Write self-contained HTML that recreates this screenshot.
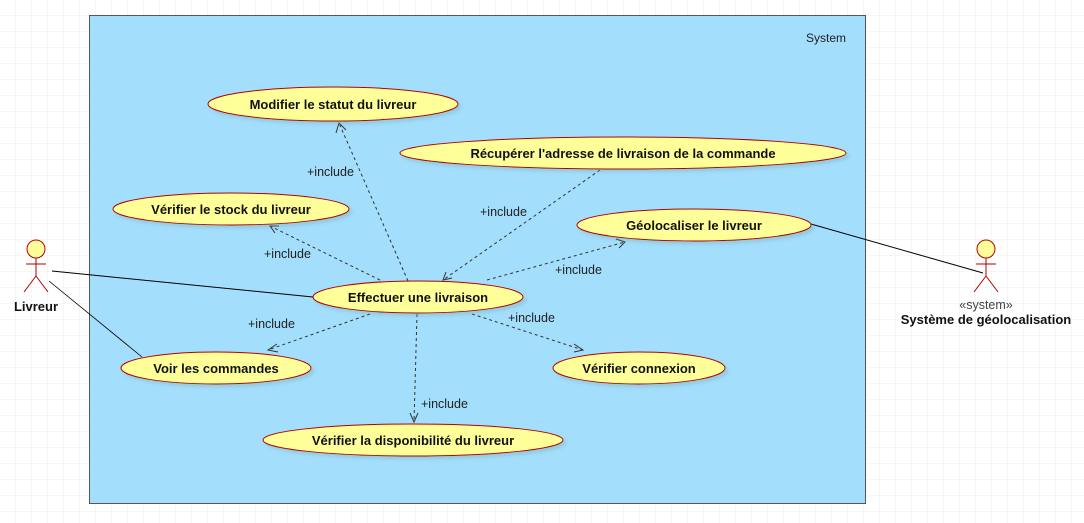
<!DOCTYPE html>
<html><head><meta charset="utf-8"><style>
html,body{margin:0;padding:0;background:#fff}
svg{display:block}
text{font-family:"Liberation Sans",sans-serif;font-size:12.5px;fill:#222}
.uc{fill:#ffff99;stroke:#b20000;stroke-width:1}
.b{font-weight:bold;font-size:13px;fill:#111}
.d{stroke:#333;stroke-width:1;stroke-dasharray:3,3;fill:none}
.ah{stroke:#333;stroke-width:1;fill:none}
</style></head><body>
<svg width="1084" height="523" viewBox="0 0 1084 523" xmlns="http://www.w3.org/2000/svg">
<defs>
<pattern id="g" width="16" height="16" patternUnits="userSpaceOnUse"><path d="M16 0V16H0" fill="none" stroke="#ececec" stroke-width="1"/></pattern>
<filter id="sh"><feDropShadow dx="3" dy="3" stdDeviation="1.5" flood-color="#7aa" flood-opacity="0.35"/></filter>
</defs>
<rect width="1084" height="523" fill="url(#g)"/>
<rect x="89.5" y="15.5" width="776" height="488" fill="#a3defd" stroke="#555" stroke-width="1"/>
<text x="806" y="42" style="font-size:12px">System</text>

<line x1="52" y1="271" x2="313" y2="297" stroke="#000"/>
<line x1="49" y1="281" x2="142" y2="357" stroke="#000" stroke-width="0.8"/>
<line x1="811" y1="224" x2="983" y2="273" stroke="#000"/>

<path class="d" d="M408 281 L339 123"/><path class="ah" d="M336 133 L339 123 L346 130"/>
<path class="d" d="M600 170 L443 280"/><path class="ah" d="M446 272 L443 280 L452 278"/>
<path class="d" d="M380 280 L270 226"/><path class="ah" d="M275 233 L270 226 L279 226"/>
<path class="d" d="M487 280 L625 242"/><path class="ah" d="M616 239 L625 242 L619 248"/>
<path class="d" d="M370 314 L268 350"/><path class="ah" d="M277 344 L268 350 L278 352"/>
<path class="d" d="M472 314 L583 350"/><path class="ah" d="M574 344 L583 350 L574 352"/>
<path class="d" d="M417 314 L414 422"/><path class="ah" d="M410 413 L414 422 L418 413"/>

<text x="307" y="176">+include</text>
<text x="480" y="216">+include</text>
<text x="264" y="258">+include</text>
<text x="555" y="274">+include</text>
<text x="248" y="328">+include</text>
<text x="508" y="322">+include</text>
<text x="421" y="408">+include</text>

<g filter="url(#sh)">
<ellipse class="uc" cx="333" cy="104" rx="125" ry="17"/>
<ellipse class="uc" cx="623" cy="153" rx="223" ry="16"/>
<ellipse class="uc" cx="231" cy="209" rx="118" ry="16"/>
<ellipse class="uc" cx="694" cy="225" rx="117" ry="16"/>
<ellipse class="uc" cx="418" cy="297" rx="105" ry="16"/>
<ellipse class="uc" cx="216" cy="368" rx="95" ry="16"/>
<ellipse class="uc" cx="639" cy="368" rx="86" ry="16"/>
<ellipse class="uc" cx="413" cy="440" rx="150" ry="16"/>
</g>
<g text-anchor="middle">
<text class="b" x="333" y="109">Modifier le statut du livreur</text>
<text class="b" x="623" y="158">Récupérer l'adresse de livraison de la commande</text>
<text class="b" x="231" y="214">Vérifier le stock du livreur</text>
<text class="b" x="694" y="230">Géolocaliser le livreur</text>
<text class="b" x="418" y="302">Effectuer une livraison</text>
<text class="b" x="216" y="373">Voir les commandes</text>
<text class="b" x="639" y="373">Vérifier connexion</text>
<text class="b" x="413" y="445">Vérifier la disponibilité du livreur</text>
</g>

<g stroke="#b20000" fill="none">
<circle cx="36" cy="249" r="9" fill="#ffff99"/>
<line x1="36" y1="258" x2="36" y2="276"/><line x1="26" y1="264" x2="46" y2="264"/>
<line x1="36" y1="276" x2="24" y2="292"/><line x1="36" y1="276" x2="48" y2="292"/>
<circle cx="986" cy="249" r="9" fill="#ffff99"/>
<line x1="986" y1="258" x2="986" y2="276"/><line x1="976" y1="264" x2="996" y2="264"/>
<line x1="986" y1="276" x2="974" y2="292"/><line x1="986" y1="276" x2="998" y2="292"/>
</g>
<text class="b" x="36" y="311" text-anchor="middle">Livreur</text>
<text x="986" y="309" text-anchor="middle" style="fill:#444">«system»</text>
<text class="b" x="986" y="324" text-anchor="middle">Système de géolocalisation</text>
</svg>
</body></html>
